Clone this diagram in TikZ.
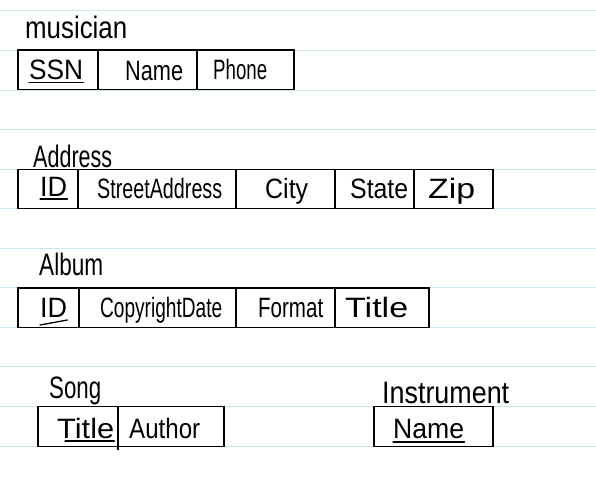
\documentclass[tikz,border=0pt]{standalone}
\usepackage{fontspec}
\setmainfont{Liberation Sans}
\usepackage{graphicx}
\definecolor{rule}{RGB}{204,229,238}
% set a word to a given width, keeping its natural height
\newcommand\fitw[2]{\resizebox{#1pt}{\height}{#2}}
\begin{document}
\begin{tikzpicture}[x=1pt,y=-1pt,
  ruling/.style={draw=rule, line width=1pt},
  cellbox/.style={draw=black, line width=1.3pt},
  field/.style={inner sep=0pt, anchor=base west, font=\fontsize{28}{28}\selectfont},
  heading/.style={inner sep=0pt, anchor=base west, font=\fontsize{31}{31}\selectfont},
  keyline/.style={line width=1.3pt, line cap=round}]

\useasboundingbox (0,0) rectangle (596,484);
\fill[white] (0,0) rectangle (596,484);

% ruled paper
\foreach \k in {0,...,11}
  \draw[ruling] (0,{11+39.55*\k}) -- (596,{11+39.55*\k});

% ---- musician ----
\node[heading] (tmus) at (25,39) {\fitw{102}{musician}};
\draw[cellbox] (18,50.1) rectangle (294,89.7);
\draw[cellbox] (98,50.1) -- (98,89.7);
\draw[cellbox] (197,50.1) -- (197,89.7);
\node[field] (mssn) at (29,80) {\fitw{54}{SSN}};
\node[field] (mname) at (125,81) {\fitw{58}{Name}};
\node[field] (mphone) at (213,80) {\fitw{54}{Phone}};
\draw[keyline] ([yshift=-2.5pt]mssn.base west) -- ([yshift=-2.5pt]mssn.base east);

% ---- Address ----
\node[heading] (taddr) at (33,167) {\fitw{79}{Address}};
\draw[cellbox] (18,169.2) rectangle (493,208.75);
\foreach \x in {78,236,335,414}
  \draw[cellbox] (\x,169.2) -- (\x,208.75);
\node[field] (aid) at (40,196) {\fitw{27}{ID}};
\node[field] (astreet) at (97,198) {\fitw{125}{StreetAddress}};
\node[field] (acity) at (265,198) {\fitw{43}{City}};
\node[field] (astate) at (350,198) {\fitw{58}{State}};
\node[field] (azip) at (428,198) {\fitw{47}{Zip}};
\draw[keyline] ([yshift=-3pt]aid.base west) -- ([yshift=-3pt]aid.base east);

% ---- Album ----
\node[heading] (talb) at (39,275) {\fitw{64}{Album}};
\draw[cellbox] (18,287.9) rectangle (429,327.5);
\foreach \x in {79,236,335}
  \draw[cellbox] (\x,287.9) -- (\x,327.5);
\node[field] (lid) at (40,317) {\fitw{27}{ID}};
\node[field] (lcopy) at (100,317) {\fitw{122}{CopyrightDate}};
\node[field] (lformat) at (258,317) {\fitw{65}{Format}};
\node[field] (ltitle) at (345,317) {\fitw{63}{Title}};
\draw[keyline] ([yshift=-8pt]lid.base west) -- ([yshift=-3pt]lid.base east);

% ---- Song ----
\node[heading] (tsong) at (49,398) {\fitw{52}{Song}};
\draw[cellbox] (38,406.6) rectangle (224,446.15);
\draw[cellbox] (118,406.6) -- (118,450);
\node[field] (stitle) at (57,438) {\fitw{57}{Title}};
\node[field] (sauthor) at (129,438) {\fitw{71}{Author}};
\draw[keyline] ([xshift=8pt,yshift=-3pt]stitle.base west) -- ([yshift=-3pt]stitle.base east);

% ---- Instrument ----
\node[heading] (tinst) at (382,403) {\fitw{127}{Instrument}};
\draw[cellbox] (374,406.6) rectangle (493,446.15);
\node[field] (iname) at (393,438) {\fitw{71}{Name}};
\draw[keyline] ([yshift=-4pt]iname.base west) -- ([yshift=-4pt]iname.base east);
\end{tikzpicture}
\end{document}
